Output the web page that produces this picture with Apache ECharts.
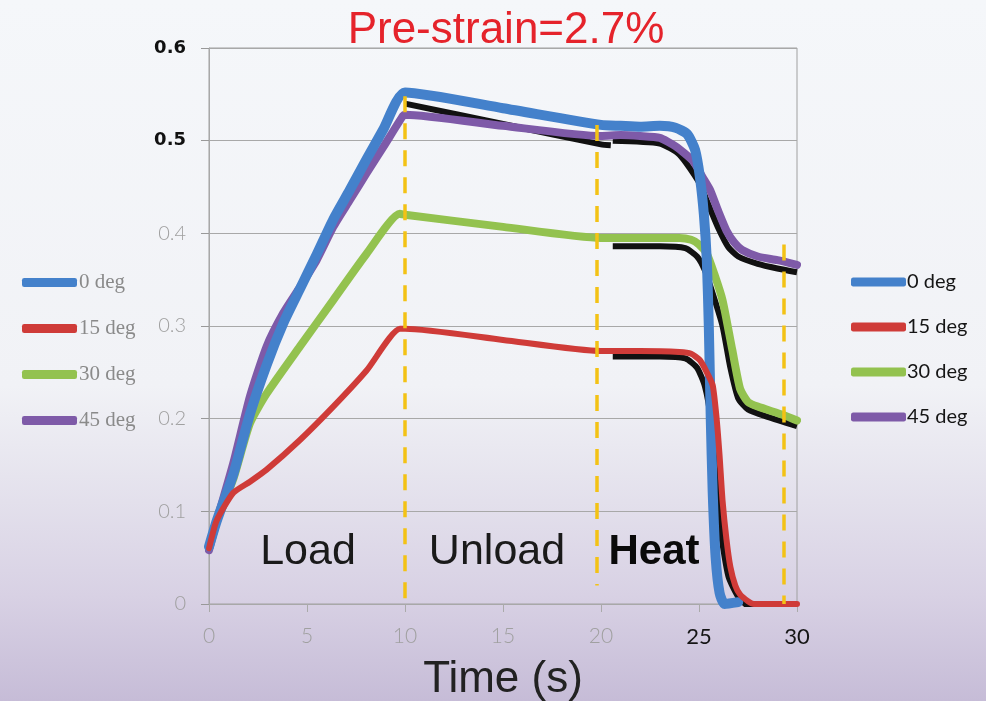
<!DOCTYPE html>
<html>
<head>
<meta charset="utf-8">
<script src="https://cdn.jsdelivr.net/npm/echarts@6/dist/echarts.min.js"></script>
<style>
html,body{margin:0;padding:0;}
#c{width:986px;height:701px;}
</style>
</head>
<body>
<div id="c"></div>
<script>
// ---- data (time in s, value) ----
const seriesNames = ['0 deg', '15 deg', '30 deg', '45 deg'];
const deg0 = [[0,0.062],[0.4,0.09],[1.24,0.14],[2.09,0.205],[2.94,0.258],[3.79,0.303],[4.64,0.34],[5.49,0.377],[6.34,0.415],[7.19,0.447],[8.04,0.48],[8.89,0.512],[10,0.552],[15,0.535],[20,0.517],[21,0.516],[22,0.515],[23,0.516],[23.8,0.514],[24.4,0.507],[24.8,0.49],[25.05,0.46],[25.25,0.42],[25.4,0.37],[25.5,0.3],[25.6,0.2],[25.7,0.12],[25.85,0.05],[26.05,0.012],[26.3,0.0],[27.0,0.002]];
const deg15 = [[0,0.06],[0.39,0.09],[1.24,0.12],[2.09,0.132],[2.94,0.145],[4.64,0.177],[6.34,0.213],[8.04,0.252],[9.74,0.297],[10,0.297],[15,0.285],[20,0.273],[22,0.273],[24,0.272],[24.6,0.27],[25.05,0.263],[25.4,0.25],[25.7,0.236],[25.9,0.2],[26.05,0.16],[26.2,0.112],[26.4,0.07],[26.6,0.04],[26.85,0.02],[27.1,0.01],[27.5,0.003],[27.8,0],[30,0]];
const deg30 = [[0,0.06],[0.4,0.09],[1.24,0.135],[2.09,0.195],[2.94,0.227],[4.64,0.278],[6.34,0.328],[8.04,0.378],[9.74,0.421],[10,0.42],[15,0.407],[20,0.395],[22,0.395],[24,0.395],[24.6,0.393],[25.0,0.388],[25.4,0.378],[25.8,0.355],[26.2,0.328],[26.7,0.274],[27.1,0.232],[27.5,0.218],[28,0.213],[29.3,0.204],[30,0.198]];
const deg45 = [[0,0.058],[0.4,0.09],[1.24,0.152],[2.09,0.224],[2.94,0.278],[3.79,0.314],[4.64,0.342],[5.49,0.371],[6.34,0.407],[7.19,0.436],[8.04,0.465],[8.89,0.493],[9.9,0.527],[10,0.528],[15,0.516],[20,0.505],[21,0.506],[22,0.505],[23,0.503],[23.8,0.494],[24.7,0.478],[25.2,0.46],[25.56,0.447],[26,0.423],[26.4,0.403],[26.8,0.39],[27.2,0.382],[28,0.375],[29,0.371],[30,0.366]];
// dark underlying traces
const shadowUnload = [[10,0.54],[15,0.518],[20,0.496],[20.5,0.495]];
const shadow30 = [[20.6,0.386],[23,0.386],[24.3,0.384],[24.9,0.375],[25.3,0.36],[25.7,0.335],[26.2,0.3],[26.6,0.255],[27,0.222],[27.5,0.21],[28.5,0.202],[30,0.192]];
const shadow15 = [[20.6,0.267],[23,0.267],[24.3,0.265],[24.9,0.255],[25.3,0.235],[25.6,0.2],[25.8,0.15],[26.1,0.08],[26.5,0.03],[27,0.008],[27.6,-0.003],[28,0]];
const shadow45 = [[20.6,0.5],[23,0.497],[24,0.485],[25,0.455],[25.5,0.43],[26,0.405],[26.5,0.385],[27,0.375],[28,0.367],[29,0.362],[30,0.358]];
// phase boundaries (x, top, bottom)
const phaseLines = [[10,0.548,0],[19.8,0.517,0.02],[29.3,0.388,0]];
const phaseLabels = ['Load', 'Unload', 'Heat'];
const darkYLabels = ['0.5', '0.6'];
const darkXLabels = ['25', '30'];

const colors = {'0 deg':'#4481cb','15 deg':'#cf3b38','30 deg':'#93c24f','45 deg':'#7e5aa8'};

const chart = echarts.init(document.getElementById('c'));

function mainSeries(name, data, width, z) {
  return {
    name, type: 'line', data, showSymbol: false, symbol: 'none',
    smooth: 0.2, z,
    lineStyle: { color: colors[name], width, cap: 'round', join: 'round' },
    itemStyle: { color: colors[name] }
  };
}
function shadowSeries(data) {
  return {
    name: '', type: 'line', data, showSymbol: false, symbol: 'none',
    smooth: 0.2, z: 1, silent: true,
    lineStyle: { color: '#111', width: 6, join: 'round' }
  };
}

const legendCommon = {
  data: seriesNames, orient: 'vertical', itemWidth: 55, itemHeight: 9,
  itemGap: 25, icon: 'roundRect', selectedMode: false
};

chart.setOption({
  animation: false,
  backgroundColor: {
    type: 'linear', x: 0, y: 0, x2: 0, y2: 1,
    colorStops: [
      { offset: 0, color: '#f5f7fa' },
      { offset: 0.55, color: '#f1f2f6' },
      { offset: 0.68, color: '#e6e4ee' },
      { offset: 0.85, color: '#d8d1e4' },
      { offset: 1, color: '#c6bcd7' }
    ]
  },
  grid: { left: 209, right: 189, top: 48, bottom: 97, show: true, borderColor: '#a0a0a0', borderWidth: 1,
          containLabel: false, outerBoundsMode: 'none' },
  legend: [
    Object.assign({}, legendCommon, { left: 17, top: 267,
      textStyle: { color: '#8a8a8a', fontSize: 21, fontFamily: 'Liberation Serif', padding: [0,0,0,-3] } }),
    Object.assign({}, legendCommon, { left: 846, top: 267,
      textStyle: { color: '#151515', fontSize: 20, fontFamily: 'Lato', padding: [0,0,0,-4] } })
  ],
  xAxis: {
    type: 'value', min: 0, max: 30, interval: 5,
    name: 'Time (s)', nameLocation: 'middle', nameGap: 54,
    nameTextStyle: { fontSize: 44, fontFamily: 'Liberation Sans', color: '#222' },
    axisLine: { show: true, lineStyle: { color: '#a8a8a8' } },
    axisTick: { show: true, length: 8, lineStyle: { color: '#aaa' } },
    splitLine: { show: false },
    axisLabel: {
      margin: 22,
      formatter: v => { const s = String(v); return darkXLabels.includes(s) ? '{d|' + s + '}' : '{g|' + s + '}'; },
      rich: {
        d: { fontSize: 22, fontFamily: 'Lato', color: '#151515' },
        g: { fontSize: 21, fontFamily: 'Lato', fontWeight: 300, color: '#a0a0a0' }
      }
    }
  },
  yAxis: {
    type: 'value', min: 0, max: 0.6, interval: 0.1,
    axisLine: { show: true, lineStyle: { color: '#a8a8a8' } },
    axisTick: { show: true, length: 8, lineStyle: { color: '#999' } },
    splitLine: { show: true, lineStyle: { color: '#a8a8a8', width: 1 } },
    axisLabel: {
      margin: 23,
      formatter: v => { const s = String(parseFloat(v.toFixed(1))); return darkYLabels.includes(s) ? '{d|' + s + '}' : '{g|' + s + '}'; },
      rich: {
        d: { fontSize: 18, fontWeight: 'bold', fontFamily: 'DejaVu Sans', color: '#111' },
        g: { fontSize: 20, fontFamily: 'Lato', fontWeight: 300, color: '#a0a0a0' }
      }
    }
  },
  graphic: [
    { type: 'text', x: 506, y: 31, z: 100, style: { text: 'Pre-strain=2.7%', font: '44px "Liberation Sans"', fill: '#e5232b', textAlign: 'center', textVerticalAlign: 'middle' } },
    { type: 'text', x: 308, y: 552, z: 100, style: { text: phaseLabels[0], font: '43px "Liberation Sans"', fill: '#1a1a1a', textAlign: 'center', textVerticalAlign: 'middle' } },
    { type: 'text', x: 497, y: 552, z: 100, style: { text: phaseLabels[1], font: '43px "Liberation Sans"', fill: '#1a1a1a', textAlign: 'center', textVerticalAlign: 'middle' } },
    { type: 'text', x: 654, y: 552, z: 100, style: { text: phaseLabels[2], font: 'bold 42px "Liberation Sans"', fill: '#0a0a0a', textAlign: 'center', textVerticalAlign: 'middle' } }
  ],
  series: [
    shadowSeries(shadowUnload),
    shadowSeries(shadow30),
    shadowSeries(shadow15),
    shadowSeries(shadow45),
    mainSeries('0 deg', deg0, 10, 4),
    mainSeries('15 deg', deg15, 6, 5),
    mainSeries('30 deg', deg30, 8, 3),
    Object.assign(mainSeries('45 deg', deg45, 8, 3), {
      markLine: {
        silent: true, symbol: ['none', 'none'], z: 20,
        label: { show: false },
        lineStyle: { color: '#f3c215', width: 3.5, type: [16, 11] },
        data: phaseLines.map(p => [{ coord: [p[0], p[1]] }, { coord: [p[0], p[2]] }])
      }
    })
  ]
});
</script>
</body>
</html>
